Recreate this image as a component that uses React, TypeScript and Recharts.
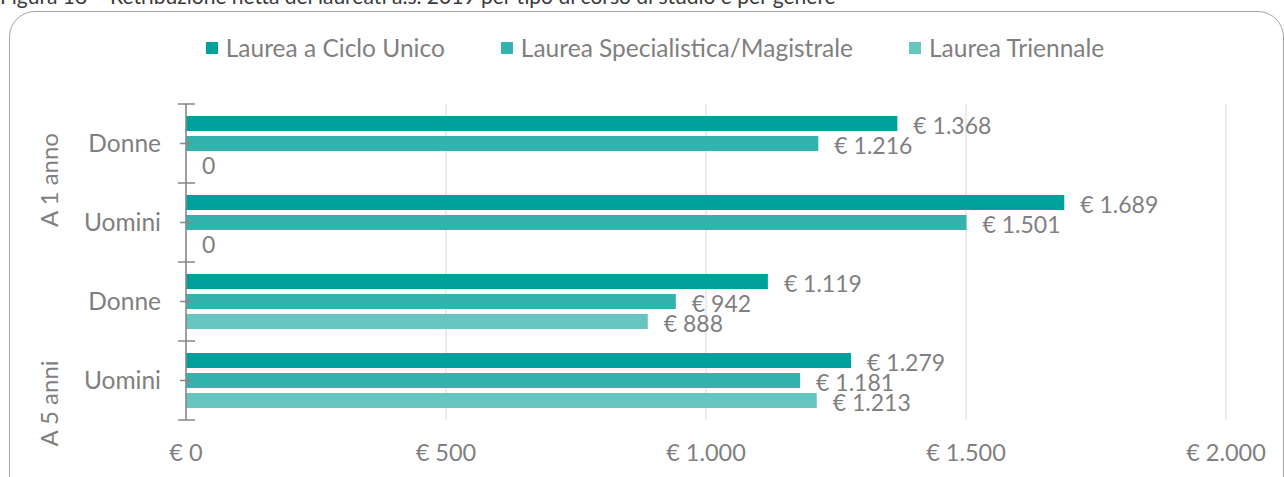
import React from "react";
import { BarChart, Bar, XAxis, YAxis, CartesianGrid, LabelList } from "recharts";

// values (net monthly pay, euro)
const categories = ["Donne", "Uomini", "Donne", "Uomini"];
const groups = ["A 1 anno", "A 1 anno", "A 5 anni", "A 5 anni"];
const cicloUnico = [1368, 1689, 1119, 1279];
const specialistica = [1216, 1501, 942, 1181];
const triennale = [0, 0, 888, 1213];
const xTicks = [0, 500, 1000, 1500, 2000];

const seriesNames = [
  "Laurea a Ciclo Unico",
  "Laurea Specialistica/Magistrale",
  "Laurea Triennale",
];
const colors = ["#00A19A", "#33B2AE", "#66C5C1"];

const data = categories.map((name, i) => ({
  name,
  group: groups[i],
  cicloUnico: cicloUnico[i],
  specialistica: specialistica[i],
  triennale: triennale[i],
}));

const W = 1284;
const H = 477;
const PLOT_TOP = 104;
const PLOT_BOTTOM = 420;
const AXIS_X = 186;
const BAND = (PLOT_BOTTOM - PLOT_TOP) / categories.length;
const GREY = "#7f7f7f";
const FONT = "Lato, 'Noto Sans', sans-serif";

const euro = (v: number) =>
  "€ " + String(v).replace(/\B(?=(\d{3})+(?!\d))/g, ".");

const dataLabel = (v: any) => (Number(v) === 0 ? "0" : euro(Number(v)));

function CategoryTick(props: any) {
  const { x, y, payload } = props;
  const i = payload.index;
  const top = y - BAND / 2;
  const isGroupStart = i === 0 || groups[i] !== groups[i - 1];
  // Excel pushed the lower group label further down, keep that
  const groupY = isGroupStart
    ? groups[i] === "A 1 anno"
      ? y + BAND / 2 - 3
      : y + BAND + 23
    : 0;
  return (
    <g>
      <text
        x={x}
        y={y}
        dy="0.35em"
        textAnchor="end"
        fill={GREY}
        fontSize={24.5}
        fontFamily={FONT}
      >
        {payload.value}
      </text>
      <line x1={AXIS_X - 6} x2={AXIS_X + 7} y1={y} y2={y} stroke="#868686" strokeWidth={1.5} />
      <line x1={AXIS_X - 8} x2={AXIS_X + 9} y1={top} y2={top} stroke="#868686" strokeWidth={1.5} />
      {i === categories.length - 1 && (
        <line
          x1={AXIS_X - 8}
          x2={AXIS_X + 9}
          y1={top + BAND}
          y2={top + BAND}
          stroke="#868686"
          strokeWidth={1.5}
        />
      )}
      {isGroupStart && (
        <text
          x={50}
          y={groupY}
          dy="0.35em"
          textAnchor="middle"
          fill={GREY}
          fontSize={24}
          fontFamily={FONT}
          transform={`rotate(-90 50 ${groupY})`}
        >
          {groups[i]}
        </text>
      )}
    </g>
  );
}

const labelProps = {
  position: "right" as const,
  offset: 16,
  formatter: dataLabel,
  fill: GREY,
  fontSize: 23,
  fontFamily: FONT,
  dy: 2,
};

export default function App() {
  return (
    <div
      style={{
        position: "fixed",
        left: 0,
        top: 0,
        width: W,
        height: H,
        overflow: "hidden",
        background: "#fff",
        fontFamily: FONT,
      }}
    >
      <div
        style={{
          position: "absolute",
          left: 0,
          top: -15,
          fontSize: 21,
          lineHeight: "21px",
          color: "#3a3a3a",
          whiteSpace: "nowrap",
        }}
      >
        Figura 18 – Retribuzione netta dei laureati a.s. 2019 per tipo di corso di studio e per genere
      </div>
      <div
        style={{
          position: "absolute",
          left: 9,
          top: 11,
          width: 1273,
          height: 490,
          border: "1.5px solid #a6a6a6",
          borderRadius: 26,
        }}
      />

      {/* legend */}
      <div
        style={{
          position: "absolute",
          top: 33,
          left: 0,
          width: W,
          display: "flex",
          justifyContent: "center",
          gap: 56,
          paddingLeft: 26,
          boxSizing: "border-box",
        }}
      >
        {seriesNames.map((n, i) => (
          <div key={n} style={{ display: "flex", alignItems: "center", gap: 8 }}>
            <span style={{ width: 12, height: 12, background: colors[i], display: "inline-block" }} />
            <span style={{ fontSize: 24.5, color: GREY }}>{n}</span>
          </div>
        ))}
      </div>

      <div style={{ position: "absolute", left: 0, top: 0 }}>
        <BarChart
          width={W}
          height={H}
          data={data}
          layout="vertical"
          margin={{ top: PLOT_TOP, right: W - 1226, bottom: 0, left: 0 }}
          barSize={15}
          barGap={5}
          barCategoryGap={12}
        >
          <CartesianGrid horizontal={false} stroke="#d9d9d9" />
          <XAxis
            type="number"
            domain={[0, 2000]}
            ticks={xTicks}
            axisLine={false}
            tickLine={false}
            tickMargin={18}
            height={H - PLOT_BOTTOM}
            tickFormatter={(v) => euro(v)}
            tick={{ fill: GREY, fontSize: 23.5, fontFamily: FONT }}
          />
          <YAxis
            type="category"
            dataKey="name"
            width={AXIS_X}
            axisLine={{ stroke: "#868686", strokeWidth: 1.5 }}
            tickLine={false}
            tickSize={8}
            tickMargin={17}
            interval={0}
            tick={<CategoryTick />}
          />
          <Bar dataKey="cicloUnico" name={seriesNames[0]} fill={colors[0]} isAnimationActive={false}>
            <LabelList dataKey="cicloUnico" {...labelProps} />
          </Bar>
          <Bar dataKey="specialistica" name={seriesNames[1]} fill={colors[1]} isAnimationActive={false}>
            <LabelList dataKey="specialistica" {...labelProps} />
          </Bar>
          <Bar
            dataKey="triennale"
            name={seriesNames[2]}
            fill={colors[2]}
            minPointSize={0.01}
            isAnimationActive={false}
          >
            <LabelList dataKey="triennale" {...labelProps} />
          </Bar>
        </BarChart>
      </div>
    </div>
  );
}
